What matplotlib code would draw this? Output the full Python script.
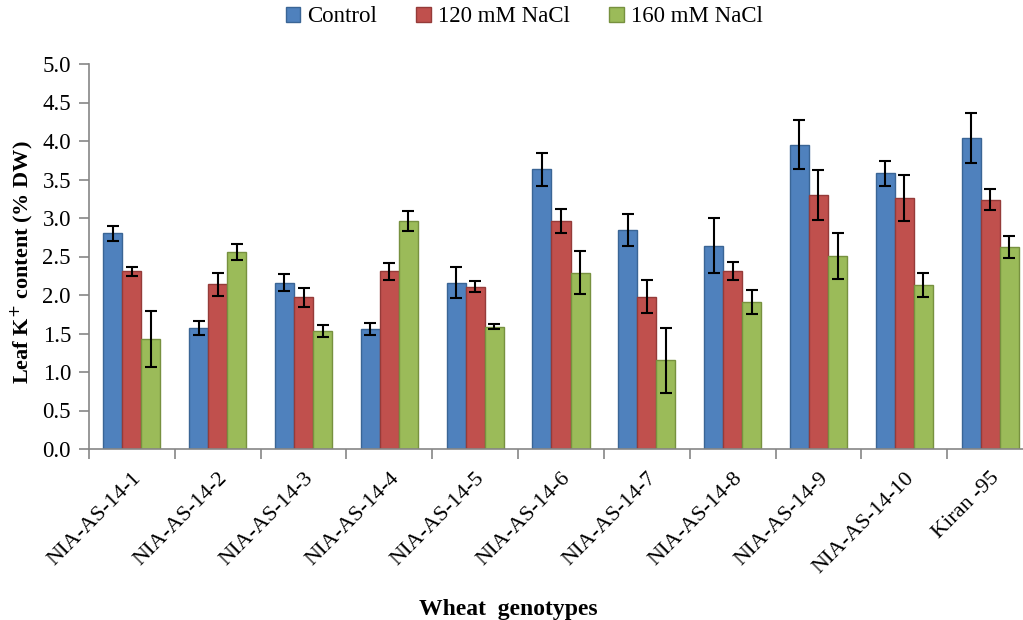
import matplotlib
matplotlib.use("Agg")
import matplotlib.pyplot as plt
import numpy as np

genotypes = ["NIA-AS-14-1", "NIA-AS-14-2", "NIA-AS-14-3", "NIA-AS-14-4", "NIA-AS-14-5",
             "NIA-AS-14-6", "NIA-AS-14-7", "NIA-AS-14-8", "NIA-AS-14-9", "NIA-AS-14-10",
             "Kiran -95"]
series = ["Control", "120 mM NaCl", "160 mM NaCl"]

control = [2.80, 1.57, 2.16, 1.56, 2.16, 3.63, 2.84, 2.64, 3.95, 3.58, 4.04]
nacl120 = [2.31, 2.14, 1.97, 2.31, 2.11, 2.96, 1.98, 2.31, 3.30, 3.26, 3.24]
nacl160 = [1.43, 2.56, 1.53, 2.96, 1.59, 2.29, 1.15, 1.91, 2.51, 2.13, 2.62]

control_err = [0.10, 0.09, 0.11, 0.08, 0.20, 0.21, 0.21, 0.36, 0.32, 0.16, 0.33]
nacl120_err = [0.06, 0.15, 0.12, 0.11, 0.075, 0.16, 0.21, 0.12, 0.32, 0.30, 0.14]
nacl160_err = [0.36, 0.10, 0.08, 0.135, 0.035, 0.28, 0.42, 0.155, 0.30, 0.15, 0.145]

values = [control, nacl120, nacl160]
errors = [control_err, nacl120_err, nacl160_err]
colors = ["#4F81BD", "#C0504D", "#9BBB59"]
edges = ["#3A6595", "#953B39", "#77913F"]

plt.rcParams["font.family"] = ["Liberation Serif", "DejaVu Serif"]

fig = plt.figure(figsize=(10.23, 6.2), dpi=100)
W, H = 1023, 620
left, right, bottom, top = 89, 1033, 449, 64
ax = fig.add_axes([left / W, 1 - bottom / H, (right - left) / W, (bottom - top) / H])

x = np.arange(len(genotypes))
width = 0.222
for i in range(3):
    ax.bar(x + (i - 1) * width, values[i], width, color=colors[i], edgecolor=edges[i],
           linewidth=1.0, label=series[i], zorder=2)
    ax.errorbar(x + (i - 1) * width, values[i], yerr=errors[i], fmt="none", ecolor="black",
                elinewidth=1.5, capsize=4.5, capthick=1.5, zorder=3)

ax.set_xlim(-0.5, len(genotypes) - 0.5)
ax.set_ylim(0, 5)
ax.set_yticks(np.arange(0, 5.01, 0.5))
ax.set_yticklabels([f"{v:.1f}" for v in np.arange(0, 5.01, 0.5)], fontsize=16.5)

ax.set_xticks(x)
ax.set_xticklabels(genotypes, rotation=45, ha="right", rotation_mode="anchor", fontsize=16)
ax.tick_params(axis="x", length=0, pad=14)
ax.set_xticks(np.arange(-0.5, len(genotypes), 1.0), minor=True)
ax.tick_params(axis="x", which="minor", length=7, color="#868686", width=1.2)
ax.tick_params(axis="y", length=7, color="#868686", width=1.2, pad=6)

for s in ["top", "right"]:
    ax.spines[s].set_visible(False)
for s in ["left", "bottom"]:
    ax.spines[s].set_color("#868686")
    ax.spines[s].set_linewidth(1.2)

ax.set_ylabel("Leaf K$^{+}$ content (% DW)", fontsize=16, fontweight="bold", va="center")
ax.yaxis.set_label_coords((22 - left) / (right - left), 0.485)
fig.text(508 / W, 1 - 610 / H, "Wheat  genotypes", fontsize=17, fontweight="bold",
         ha="center", va="center")

fig.legend(loc="center", bbox_to_anchor=(524 / W, 1 - 17 / H), ncol=3, frameon=False,
           fontsize=16.5, handlelength=0.65, handleheight=0.65, handletextpad=0.3,
           columnspacing=1.7)

fig.savefig("out.png", dpi=100)
